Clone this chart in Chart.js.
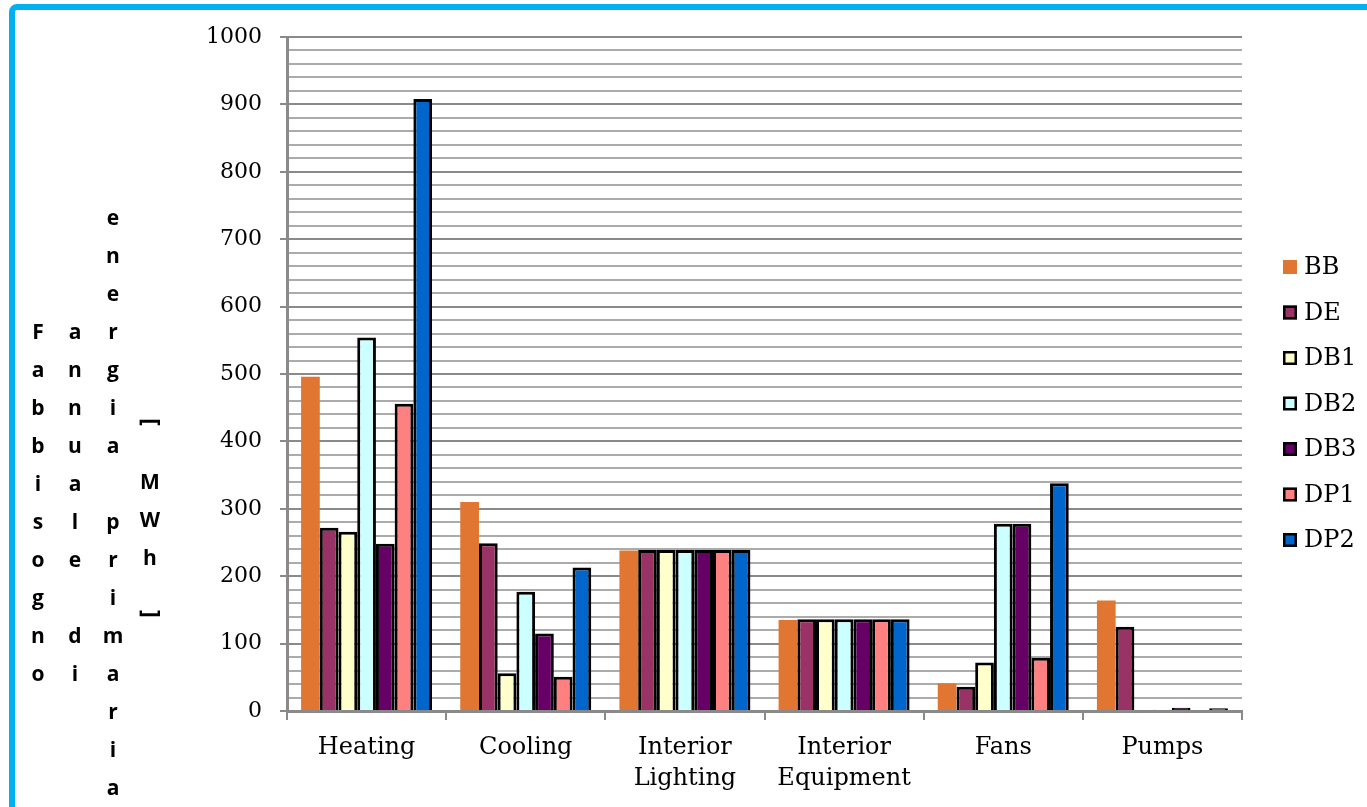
<!DOCTYPE html>
<html><head><meta charset="utf-8">
<script src="https://cdn.jsdelivr.net/npm/chart.js@4"></script>
<style>
html,body{margin:0;padding:0;background:#fff;overflow:hidden}
#wrap{position:relative;width:1367px;height:807px;overflow:hidden}
#frame{position:absolute;left:9px;top:4px;width:1420px;height:900px;border:6px solid #00B0F0;border-radius:8px;box-sizing:border-box}
canvas{position:absolute;left:0;top:0}
</style></head><body>
<div id="wrap"><div id="frame"></div><canvas id="c" width="1367" height="807"></canvas></div>
<script>
const categories = [['Heating'], ['Cooling'], ['Interior', 'Lighting'], ['Interior', 'Equipment'], ['Fans'], ['Pumps']];
const seriesNames = ['BB', 'DE', 'DB1', 'DB2', 'DB3', 'DP1', 'DP2'];
const BB  = [496, 310, 238, 135, 41, 164];
const DE  = [272, 249, 239, 136, 36, 125];
const DB1 = [266, 56, 239, 136, 72, 0];
const DB2 = [554, 177, 239, 136, 278, 2];
const DB3 = [248, 115, 239, 136, 278, 5];
const DP1 = [456, 51, 239, 136, 79, 0];
const DP2 = [908, 213, 239, 136, 338, 4];
const yTitleColumns = ['Fabbisogno', 'annuale di', 'energia primaria'];
const yTitleUnit = ['[', 'M', 'W', 'h', ']'];

const seriesValues = [BB, DE, DB1, DB2, DB3, DP1, DP2];
const colors = ['#E07632', '#993366', '#FFFFCC', '#CCFFFF', '#660066', '#FF8080', '#0066CC'];

const datasets = seriesNames.map((n, i) => ({
  label: n,
  data: seriesValues[i],
  backgroundColor: colors[i],
  borderColor: '#000',
  borderWidth: i === 0 ? 0 : 3,
  barPercentage: 1.0,
  categoryPercentage: 0.823
}));

const serif = '"DejaVu Serif", "Liberation Serif", serif';
const MAJOR = '#8a8a8a', MINOR = '#ababab';

const yTitlePlugin = {
  id: 'yTitle',
  afterDraw(chart) {
    const ctx = chart.ctx;
    ctx.save();
    ctx.fillStyle = '#000';
    ctx.font = 'bold 21px "Open Sans", "Noto Sans", sans-serif';
    ctx.textAlign = 'center';
    ctx.textBaseline = 'middle';
    const row = 38;
    const cols = [{x: 38, y: 333}, {x: 75, y: 333}, {x: 113, y: 219}];
    yTitleColumns.forEach((s, ci) => {
      [...s].forEach((ch, k) => {
        if (ch !== ' ') ctx.fillText(ch, cols[ci].x, cols[ci].y + k * row);
      });
    });
    const ux = 150;
    const uy = [422, 483, 521, 559, 614];
    yTitleUnit.forEach((ch, k) => {
      if (ch === '[' || ch === ']') {
        ctx.save();
        ctx.font = 'bold 24px "Open Sans", "Noto Sans", sans-serif';
        ctx.translate(ux, uy[k]);
        ctx.rotate(Math.PI / 2);
        ctx.fillText(ch, 0, 0);
        ctx.restore();
      } else {
        ctx.fillText(ch, ux, uy[k]);
      }
    });
    ctx.restore();
  }
};

const legendPlugin = {
  id: 'customLegend',
  afterDraw(chart) {
    const ctx = chart.ctx;
    ctx.save();
    ctx.font = '24px ' + serif;
    ctx.textBaseline = 'middle';
    ctx.textAlign = 'left';
    chart.data.datasets.forEach((ds, i) => {
      const cy = 267 + i * 45.5;
      ctx.fillStyle = ds.backgroundColor;
      ctx.fillRect(1283, cy - 7, 14, 14);
      if (ds.borderWidth) {
        ctx.strokeStyle = '#000';
        ctx.lineWidth = 2.5;
        ctx.strokeRect(1284.25, cy - 5.75, 11.5, 11.5);
      }
      ctx.fillStyle = '#000';
      ctx.fillText(ds.label, 1304, cy + 1);
    });
    ctx.restore();
  }
};

new Chart(document.getElementById('c'), {
  type: 'bar',
  data: { labels: categories, datasets },
  plugins: [yTitlePlugin, legendPlugin],
  options: {
    responsive: false,
    devicePixelRatio: 1,
    animation: false,
    layout: { padding: { top: 37, bottom: 0, left: 0, right: 125 } },
    plugins: { legend: { display: false }, tooltip: { enabled: false } },
    scales: {
      x: {
        grid: { offset: true, drawOnChartArea: false, tickLength: 9, color: MAJOR, lineWidth: 2 },
        border: { color: MAJOR, width: 3 },
        ticks: { font: { family: serif, size: 24, lineHeight: 1.3 }, color: '#000', padding: 12, maxRotation: 0, autoSkip: false },
        afterFit: s => { s.height = 96; }
      },
      y: {
        min: 0, max: 1000,
        grid: {
          color: c => (c.tick && c.tick.value % 100 === 0) ? MAJOR : MINOR,
          lineWidth: 2,
          tickLength: 7,
          tickColor: c => (c.tick && c.tick.value % 100 === 0) ? MAJOR : 'rgba(0,0,0,0)'
        },
        border: { color: MAJOR, width: 3 },
        ticks: {
          stepSize: 20, autoSkip: false, padding: 18, color: '#000',
          font: { family: serif, size: 22 },
          callback: v => (v % 100 === 0 ? String(v) : '')
        },
        afterFit: s => { s.width = 287; }
      }
    }
  }
});
</script>
</body></html>
